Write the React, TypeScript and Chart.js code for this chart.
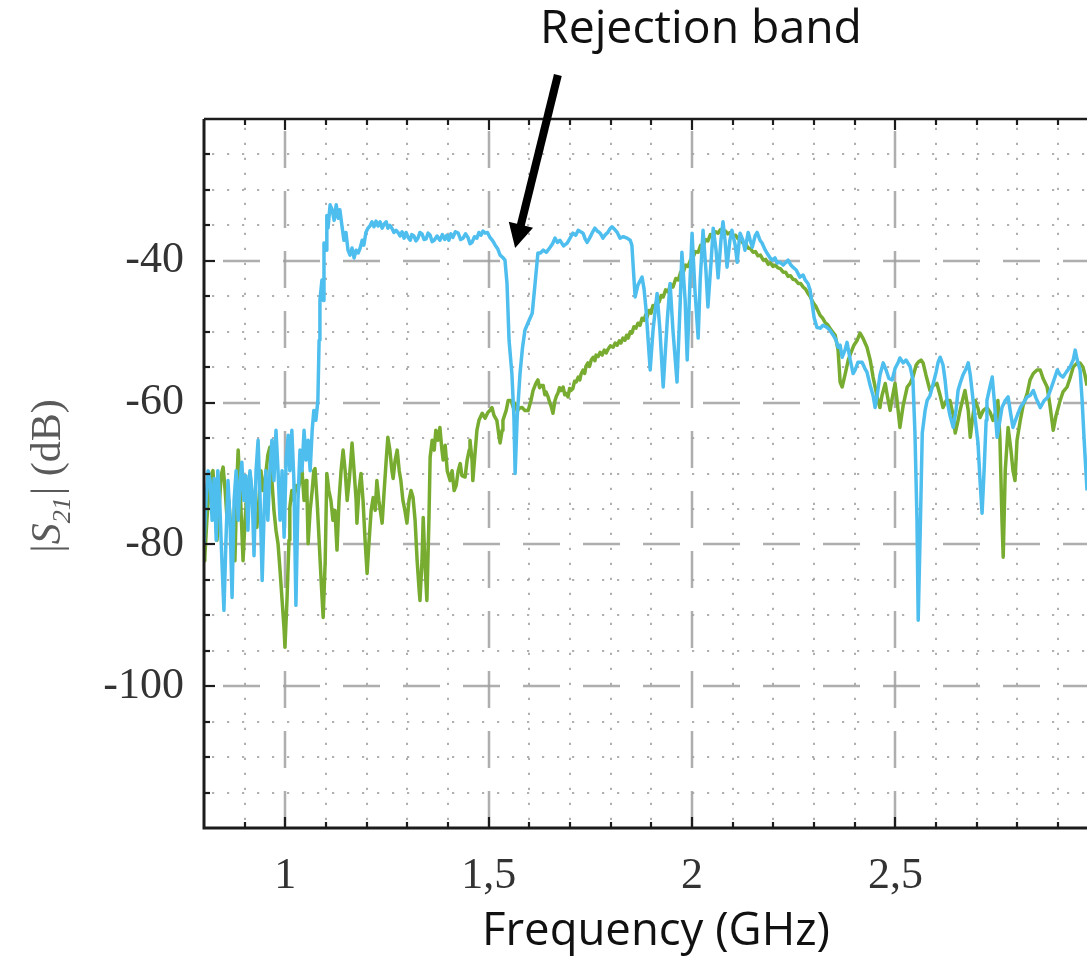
import React, { useEffect, useRef } from "react";
import { Chart, registerables } from "chart.js";

Chart.register(...registerables);

// ---------- axes ----------
const X_MIN = 0.8;
const X_MAX = 2.971;
const Y_MIN = -120;
const Y_MAX = -20;
const xMajorTicks = [1, 1.5, 2, 2.5];
const xTickLabels = ["1", "1,5", "2", "2,5"];
const yMajorTicks = [-100, -80, -60, -40];
const yTickLabels = ["-100", "-80", "-60", "-40"];
const X_MINOR_STEP = 0.1;
const Y_MINOR_STEP = 5;

// ---------- texts ----------
const titleText = "Rejection band";
const xAxisTitle = "Frequency (GHz)";
const yAxisParts = { left: "|", s: "S", sub: "21", right: "| (dB)" };

// annotation arrow (data coordinates: GHz, dB)
const arrowTail = [1.670, -13.8];
const arrowTip = [1.565, -38.2];

// ---------- series: [frequency GHz, |S21| dB] ----------
const blueS21: number[][] = [
  [0.800,-80.1],[0.805,-73.8],[0.810,-69.6],[0.815,-71.0],[0.820,-76.6],[0.825,-70.7],[0.830,-79.4],[0.834,-69.6],[0.839,-74.5],[0.844,-82.3],
  [0.849,-89.3],[0.854,-79.4],[0.859,-71.0],[0.864,-76.6],[0.869,-87.5],[0.874,-73.8],[0.879,-69.6],[0.884,-76.6],[0.889,-71.0],[0.893,-68.4],
  [0.898,-73.8],[0.903,-70.3],[0.908,-78.0],[0.913,-69.6],[0.918,-72.4],[0.923,-81.6],[0.928,-69.6],[0.933,-65.3],[0.938,-73.8],[0.943,-85.1],
  [0.948,-75.2],[0.952,-69.6],[0.957,-76.6],[0.962,-69.6],[0.967,-65.3],[0.972,-71.0],[0.977,-63.9],[0.982,-69.6],[0.987,-76.6],[0.992,-69.6],
  [0.997,-79.0],[1.002,-68.1],[1.007,-64.6],[1.011,-69.6],[1.016,-63.9],[1.021,-71.0],[1.026,-88.6],[1.031,-73.8],[1.036,-66.7],[1.041,-69.6],
  [1.046,-63.9],[1.051,-68.1],[1.056,-65.3],[1.061,-69.6],[1.066,-63.9],[1.070,-61.1],[1.075,-62.5],[1.080,-59.7],[1.083,-51.2],[1.085,-45.6],
  [1.090,-42.7],[1.093,-45.6],[1.095,-37.5],[1.100,-38.5],[1.102,-33.6],[1.105,-35.4],[1.110,-32.1],[1.115,-32.8],[1.120,-34.3],[1.125,-32.1],
  [1.130,-34.0],[1.134,-32.8],[1.139,-35.0],[1.144,-37.1],[1.149,-36.0],[1.154,-38.5],[1.159,-39.2],[1.164,-38.2],[1.169,-39.6],[1.174,-38.5],
  [1.179,-38.9],[1.184,-38.2],[1.189,-37.1],[1.193,-37.8],[1.198,-36.0],[1.203,-35.4],[1.208,-35.1],[1.213,-34.5],[1.218,-35.2],[1.223,-34.4],
  [1.228,-35.1],[1.233,-34.5],[1.238,-35.4],[1.243,-34.8],[1.248,-34.5],[1.252,-35.4],[1.257,-35.0],[1.262,-35.4],[1.267,-36.0],[1.272,-35.7],
  [1.277,-36.0],[1.282,-36.5],[1.287,-35.9],[1.292,-36.8],[1.297,-36.0],[1.302,-36.7],[1.307,-37.1],[1.311,-36.3],[1.316,-36.5],[1.321,-37.2],
  [1.326,-36.8],[1.331,-36.0],[1.336,-36.2],[1.341,-37.0],[1.346,-36.9],[1.351,-36.1],[1.356,-36.4],[1.361,-37.3],[1.366,-37.1],[1.373,-36.5],
  [1.380,-37.1],[1.386,-36.3],[1.392,-37.0],[1.397,-36.4],[1.402,-37.1],[1.407,-36.2],[1.412,-36.7],[1.418,-35.9],[1.425,-36.1],[1.431,-37.0],
  [1.437,-36.8],[1.443,-36.2],[1.449,-36.7],[1.454,-37.6],[1.459,-37.4],[1.465,-36.6],[1.471,-36.8],[1.476,-36.0],[1.481,-36.4],[1.486,-35.8],
  [1.491,-36.1],[1.497,-36.0],[1.503,-36.7],[1.510,-37.2],[1.516,-37.8],[1.522,-38.3],[1.528,-39.2],[1.534,-39.5],[1.540,-39.9],[1.545,-43.2],
  [1.550,-51.2],[1.557,-55.9],[1.562,-62.1],[1.565,-70.0],[1.570,-62.1],[1.577,-55.9],[1.583,-52.3],[1.589,-49.8],[1.597,-48.7],[1.607,-47.4],
  [1.614,-43.2],[1.621,-38.9],[1.627,-38.9],[1.634,-38.5],[1.642,-38.8],[1.651,-38.1],[1.657,-37.6],[1.663,-36.8],[1.669,-37.4],[1.675,-37.1],
  [1.684,-37.9],[1.693,-37.5],[1.700,-36.8],[1.707,-36.1],[1.714,-36.4],[1.720,-35.7],[1.726,-35.9],[1.732,-36.1],[1.737,-36.9],[1.742,-37.4],
  [1.748,-36.8],[1.754,-36.1],[1.761,-35.4],[1.767,-35.8],[1.774,-36.1],[1.781,-36.8],[1.787,-36.3],[1.793,-36.0],[1.798,-35.5],[1.803,-35.2],
  [1.810,-35.6],[1.816,-36.0],[1.823,-36.8],[1.831,-36.6],[1.840,-36.8],[1.848,-37.1],[1.852,-37.8],[1.856,-41.5],[1.860,-45.1],[1.867,-43.4],
  [1.877,-42.3],[1.882,-44.0],[1.887,-47.0],[1.897,-55.4],[1.904,-49.8],[1.914,-44.6],[1.921,-49.8],[1.929,-57.8],[1.939,-48.4],[1.946,-43.2],
  [1.953,-49.8],[1.963,-57.1],[1.971,-45.6],[1.975,-38.8],[1.983,-45.6],[1.988,-54.0],[1.995,-42.7],[2.000,-36.1],[2.007,-44.1],[2.015,-50.9],
  [2.020,-42.7],[2.027,-35.7],[2.034,-41.3],[2.039,-46.5],[2.047,-39.9],[2.052,-35.4],[2.059,-38.5],[2.064,-42.4],[2.071,-37.1],[2.076,-34.5],
  [2.081,-37.1],[2.086,-40.9],[2.093,-37.1],[2.098,-35.7],[2.106,-37.8],[2.111,-40.2],[2.116,-37.1],[2.118,-36.1],[2.125,-37.1],[2.130,-38.5],
  [2.138,-36.0],[2.143,-37.1],[2.148,-38.1],[2.155,-36.5],[2.160,-36.0],[2.167,-37.1],[2.172,-37.5],[2.180,-38.5],[2.184,-38.9],[2.192,-39.6],
  [2.197,-39.9],[2.204,-39.6],[2.209,-40.3],[2.216,-40.2],[2.224,-40.6],[2.231,-40.2],[2.236,-39.9],[2.243,-40.6],[2.248,-40.9],[2.256,-41.3],
  [2.265,-42.3],[2.273,-42.0],[2.278,-42.7],[2.285,-43.2],[2.290,-44.1],[2.295,-46.0],[2.300,-48.0],[2.307,-49.4],[2.315,-49.5],[2.322,-49.1],
  [2.332,-49.4],[2.339,-49.8],[2.347,-50.5],[2.354,-51.2],[2.359,-52.2],[2.364,-51.9],[2.369,-53.6],[2.376,-52.6],[2.381,-51.5],[2.389,-54.0],
  [2.396,-55.9],[2.401,-55.4],[2.408,-54.3],[2.418,-54.3],[2.425,-55.2],[2.430,-55.7],[2.438,-57.6],[2.445,-59.0],[2.450,-60.7],[2.455,-59.0],
  [2.462,-56.1],[2.470,-54.4],[2.477,-55.4],[2.484,-56.6],[2.492,-56.8],[2.499,-55.2],[2.507,-54.3],[2.511,-53.7],[2.519,-54.4],[2.526,-54.0],
  [2.536,-54.9],[2.543,-56.8],[2.548,-64.3],[2.553,-76.6],[2.556,-90.7],[2.561,-78.0],[2.566,-64.3],[2.573,-61.1],[2.578,-59.7],[2.585,-59.0],
  [2.593,-57.3],[2.600,-55.7],[2.605,-54.3],[2.610,-53.6],[2.617,-54.7],[2.622,-56.8],[2.627,-59.7],[2.634,-61.8],[2.642,-63.5],[2.649,-61.1],
  [2.654,-58.3],[2.659,-57.3],[2.666,-56.1],[2.674,-55.2],[2.679,-54.4],[2.684,-56.1],[2.691,-59.7],[2.698,-63.2],[2.703,-65.7],[2.708,-71.0],
  [2.713,-75.6],[2.718,-69.6],[2.723,-62.5],[2.725,-59.7],[2.733,-57.6],[2.738,-56.4],[2.743,-59.7],[2.750,-64.9],[2.757,-62.5],[2.762,-60.7],
  [2.770,-59.7],[2.777,-59.2],[2.784,-61.8],[2.789,-63.5],[2.797,-62.2],[2.807,-60.7],[2.814,-60.1],[2.824,-59.2],[2.831,-59.0],[2.839,-58.3],
  [2.846,-59.4],[2.856,-60.7],[2.866,-59.7],[2.875,-59.2],[2.885,-57.6],[2.898,-55.4],[2.905,-56.1],[2.912,-56.4],[2.920,-55.7],[2.929,-55.0],
  [2.937,-54.0],[2.942,-52.6],[2.947,-54.0],[2.954,-55.4],[2.959,-59.7],[2.964,-65.3],[2.971,-72.4]
];

const greenS21: number[][] = [
  [0.800,-82.3],[0.802,-81.8],[0.807,-76.6],[0.812,-72.4],[0.817,-70.3],[0.822,-69.6],[0.827,-73.8],[0.832,-79.4],[0.837,-75.2],[0.842,-70.3],
  [0.847,-69.1],[0.852,-72.4],[0.857,-76.6],[0.861,-73.8],[0.866,-78.0],[0.871,-80.1],[0.876,-82.3],[0.881,-71.0],[0.884,-66.7],[0.889,-72.4],
  [0.893,-78.0],[0.896,-82.3],[0.901,-76.6],[0.906,-72.4],[0.913,-70.0],[0.918,-73.1],[0.923,-75.2],[0.930,-77.6],[0.935,-73.8],[0.940,-69.6],
  [0.945,-72.4],[0.950,-71.0],[0.957,-67.4],[0.962,-66.3],[0.967,-71.0],[0.972,-75.2],[0.977,-78.0],[0.982,-79.9],[0.987,-83.7],[0.992,-87.9],
  [0.997,-92.1],[0.999,-94.5],[1.004,-87.9],[1.009,-79.4],[1.011,-74.8],[1.016,-72.4],[1.021,-73.8],[1.026,-71.7],[1.031,-72.4],[1.036,-71.0],
  [1.041,-69.6],[1.046,-73.8],[1.051,-71.0],[1.053,-72.4],[1.056,-79.9],[1.061,-75.2],[1.066,-72.4],[1.070,-69.6],[1.073,-69.3],[1.078,-73.8],
  [1.083,-79.4],[1.088,-85.1],[1.093,-90.3],[1.098,-82.3],[1.102,-70.0],[1.107,-72.4],[1.112,-73.8],[1.117,-76.6],[1.122,-75.2],[1.127,-80.8],
  [1.132,-73.8],[1.137,-69.6],[1.142,-66.7],[1.147,-69.6],[1.152,-73.8],[1.157,-71.0],[1.161,-68.1],[1.164,-65.7],[1.169,-69.6],[1.174,-73.8],
  [1.176,-77.0],[1.181,-72.4],[1.186,-70.0],[1.191,-73.8],[1.196,-79.4],[1.201,-84.1],[1.206,-79.4],[1.211,-75.2],[1.216,-73.4],[1.221,-75.2],
  [1.225,-71.0],[1.230,-73.8],[1.238,-77.0],[1.243,-72.4],[1.248,-68.1],[1.252,-64.9],[1.257,-66.7],[1.262,-69.6],[1.265,-70.7],[1.270,-68.1],
  [1.275,-66.7],[1.280,-69.6],[1.284,-71.0],[1.289,-73.8],[1.294,-75.2],[1.299,-77.0],[1.304,-73.8],[1.309,-72.4],[1.314,-73.4],[1.319,-76.6],
  [1.324,-82.3],[1.329,-86.5],[1.331,-87.9],[1.336,-82.3],[1.339,-76.2],[1.343,-82.3],[1.348,-87.9],[1.353,-76.6],[1.356,-67.7],[1.361,-65.3],
  [1.366,-66.7],[1.370,-63.9],[1.375,-65.3],[1.380,-63.5],[1.385,-66.7],[1.388,-68.1],[1.393,-66.0],[1.398,-69.6],[1.405,-71.0],[1.410,-69.6],
  [1.415,-72.4],[1.420,-71.7],[1.425,-69.6],[1.430,-68.6],[1.434,-70.3],[1.442,-70.5],[1.447,-68.1],[1.452,-66.7],[1.454,-65.3],[1.459,-68.1],
  [1.461,-71.0],[1.466,-67.4],[1.471,-63.9],[1.476,-62.5],[1.484,-61.5],[1.491,-62.2],[1.498,-61.4],[1.503,-61.1],[1.508,-60.7],[1.513,-61.8],
  [1.520,-62.5],[1.525,-64.6],[1.528,-65.7],[1.533,-63.9],[1.535,-62.5],[1.543,-61.1],[1.548,-59.7],[1.555,-59.7],[1.560,-60.6],[1.565,-60.1],
  [1.570,-61.2],[1.575,-60.8],[1.582,-60.7],[1.589,-61.1],[1.597,-61.1],[1.604,-59.7],[1.609,-58.3],[1.616,-57.3],[1.621,-56.8],[1.625,-57.9],
  [1.629,-57.6],[1.634,-57.6],[1.638,-58.9],[1.641,-58.5],[1.646,-59.2],[1.650,-60.0],[1.653,-60.4],[1.658,-61.5],[1.663,-59.7],[1.667,-59.0],
  [1.670,-58.7],[1.674,-57.9],[1.678,-58.3],[1.683,-57.8],[1.687,-58.9],[1.690,-58.7],[1.695,-59.2],[1.699,-58.0],[1.702,-58.3],[1.707,-58.0],
  [1.711,-57.0],[1.715,-57.1],[1.720,-56.4],[1.724,-56.8],[1.727,-56.0],[1.732,-55.4],[1.736,-55.9],[1.739,-54.9],[1.744,-54.4],[1.748,-54.9],
  [1.752,-54.0],[1.757,-53.6],[1.761,-54.1],[1.764,-53.3],[1.769,-53.5],[1.774,-52.9],[1.779,-53.3],[1.784,-52.6],[1.789,-53.0],[1.793,-52.5],
  [1.799,-52.0],[1.806,-52.2],[1.811,-51.6],[1.816,-51.9],[1.821,-51.3],[1.825,-51.6],[1.830,-50.9],[1.835,-51.2],[1.839,-50.5],[1.843,-50.9],
  [1.848,-50.0],[1.852,-50.2],[1.857,-49.3],[1.862,-49.5],[1.867,-48.8],[1.872,-49.1],[1.877,-48.1],[1.882,-48.4],[1.886,-47.6],[1.889,-48.0],
  [1.894,-47.0],[1.899,-47.4],[1.904,-46.3],[1.909,-46.5],[1.914,-45.5],[1.919,-45.8],[1.924,-44.9],[1.929,-45.1],[1.935,-44.1],[1.941,-44.4],
  [1.947,-43.3],[1.953,-43.7],[1.960,-42.5],[1.966,-42.7],[1.972,-41.6],[1.978,-41.7],[1.984,-40.6],[1.990,-40.8],[1.996,-39.9],[2.002,-39.6],
  [2.008,-38.7],[2.015,-38.8],[2.021,-37.8],[2.027,-37.9],[2.033,-37.0],[2.039,-37.2],[2.045,-36.3],[2.052,-36.5],[2.058,-35.9],[2.064,-36.1],
  [2.070,-35.6],[2.076,-36.1],[2.082,-35.8],[2.088,-36.2],[2.094,-36.0],[2.101,-36.5],[2.107,-36.4],[2.113,-36.9],[2.119,-37.0],[2.125,-37.5],
  [2.131,-37.6],[2.138,-38.2],[2.144,-38.3],[2.150,-38.8],[2.156,-38.7],[2.162,-39.3],[2.168,-39.2],[2.175,-39.9],[2.181,-39.8],[2.187,-40.5],
  [2.193,-40.3],[2.199,-40.8],[2.205,-40.6],[2.211,-41.0],[2.217,-41.1],[2.224,-41.6],[2.230,-41.6],[2.236,-42.2],[2.242,-42.1],[2.248,-42.6],
  [2.254,-42.7],[2.261,-43.2],[2.267,-43.2],[2.273,-43.7],[2.279,-44.0],[2.285,-44.6],[2.290,-45.0],[2.295,-45.6],[2.300,-46.1],[2.305,-46.5],
  [2.310,-47.1],[2.315,-47.7],[2.321,-48.1],[2.327,-48.7],[2.333,-49.0],[2.339,-49.5],[2.345,-50.0],[2.352,-50.5],[2.359,-52.6],[2.364,-57.1],
  [2.369,-57.8],[2.376,-56.1],[2.384,-54.0],[2.391,-52.9],[2.398,-51.9],[2.406,-51.2],[2.413,-50.2],[2.420,-50.9],[2.430,-52.2],[2.438,-54.0],
  [2.445,-56.4],[2.452,-58.3],[2.457,-59.7],[2.462,-60.7],[2.467,-59.0],[2.475,-57.3],[2.480,-59.0],[2.487,-61.1],[2.492,-59.4],[2.499,-57.3],
  [2.504,-59.7],[2.511,-63.5],[2.519,-60.4],[2.529,-57.8],[2.536,-57.3],[2.543,-56.4],[2.551,-54.7],[2.556,-54.3],[2.563,-54.0],[2.568,-54.4],
  [2.575,-56.1],[2.585,-58.3],[2.593,-57.6],[2.602,-57.3],[2.610,-59.0],[2.617,-60.7],[2.625,-59.7],[2.634,-59.7],[2.642,-61.8],[2.647,-64.3],
  [2.654,-62.5],[2.659,-61.1],[2.666,-59.4],[2.671,-58.3],[2.679,-61.1],[2.684,-64.9],[2.689,-62.5],[2.696,-59.7],[2.703,-60.8],[2.708,-62.1],
  [2.716,-61.1],[2.725,-60.7],[2.733,-61.4],[2.740,-62.5],[2.748,-61.1],[2.752,-59.7],[2.757,-65.3],[2.762,-76.6],[2.765,-81.8],[2.770,-69.6],
  [2.777,-63.5],[2.784,-66.7],[2.789,-69.6],[2.794,-71.0],[2.799,-65.3],[2.807,-62.5],[2.814,-60.4],[2.824,-58.7],[2.831,-56.8],[2.839,-55.9],
  [2.848,-55.4],[2.856,-55.4],[2.863,-56.6],[2.873,-57.8],[2.880,-60.4],[2.888,-63.9],[2.895,-61.8],[2.905,-59.7],[2.912,-58.5],[2.922,-57.8],
  [2.929,-56.6],[2.937,-55.0],[2.947,-54.4],[2.954,-54.4],[2.961,-55.0],[2.966,-56.1],[2.971,-57.6]
];

// ---------- style ----------
const BLUE = "rgb(77,190,238)";
const GREEN = "rgb(119,172,48)";
const LINE_WIDTH = 3.5;
const AXIS_COLOR = "#1c1c1c";
const TICK_LABEL_COLOR = "#333333";
const YLABEL_COLOR = "#5a5a5a";
const GRID_MAJOR = "rgba(160,160,160,0.85)";
const GRID_MINOR = "rgba(150,150,150,0.75)";
const SERIF = '"Liberation Serif", "Times New Roman", serif';
const SANS = '"Open Sans", "Noto Sans", sans-serif';

const near = (a: number, b: number) => Math.abs(a - b) < 1e-6;

function drawFitted(ctx: CanvasRenderingContext2D, text: string, family: string, targetW: number, cx: number, baseY: number) {
  ctx.font = `100px ${family}`;
  const w = ctx.measureText(text).width;
  const size = (100 * targetW) / w;
  ctx.font = `${size}px ${family}`;
  ctx.textAlign = "center";
  ctx.textBaseline = "alphabetic";
  ctx.fillText(text, cx, baseY);
}

const overlayPlugin = {
  id: "matlabOverlay",
  beforeDatasetsDraw(chart: any) {
    const { ctx, chartArea: a } = chart;
    const xs = chart.scales.x;
    const ys = chart.scales.y;
    ctx.save();
    ctx.beginPath();
    ctx.rect(a.left, a.top, a.right - a.left, a.bottom - a.top);
    ctx.clip();
    ctx.lineCap = "butt";

    // minor dotted grid
    ctx.strokeStyle = GRID_MINOR;
    ctx.lineWidth = 2;
    ctx.setLineDash([2.2, 12.8]);
    for (let k = Math.round(X_MIN / X_MINOR_STEP) + 1; k * X_MINOR_STEP < X_MAX; k++) {
      const v = +(k * X_MINOR_STEP).toFixed(4);
      if (xMajorTicks.some((m) => near(m, v))) continue;
      const px = Math.round(xs.getPixelForValue(v));
      ctx.beginPath();
      ctx.moveTo(px, a.bottom - 8);
      ctx.lineTo(px, a.top);
      ctx.stroke();
    }
    for (let k = Math.round(Y_MIN / Y_MINOR_STEP) + 1; k * Y_MINOR_STEP < Y_MAX; k++) {
      const v = k * Y_MINOR_STEP;
      if (yMajorTicks.some((m) => near(m, v))) continue;
      const py = Math.round(ys.getPixelForValue(v));
      ctx.beginPath();
      ctx.moveTo(a.left + 8, py);
      ctx.lineTo(a.right, py);
      ctx.stroke();
    }

    // major dashed grid
    ctx.strokeStyle = GRID_MAJOR;
    ctx.lineWidth = 2.5;
    ctx.setLineDash([37, 23]);
    ctx.lineDashOffset = 0;
    for (const v of xMajorTicks) {
      const px = Math.round(xs.getPixelForValue(v));
      ctx.beginPath();
      ctx.moveTo(px, a.bottom);
      ctx.lineTo(px, a.top);
      ctx.stroke();
    }
    ctx.lineDashOffset = 41;
    for (const v of yMajorTicks) {
      const py = Math.round(ys.getPixelForValue(v));
      ctx.beginPath();
      ctx.moveTo(a.left, py);
      ctx.lineTo(a.right, py);
      ctx.stroke();
    }
    ctx.restore();
  },
  afterDatasetsDraw(chart: any) {
    const { ctx, chartArea: a } = chart;
    const xs = chart.scales.x;
    const ys = chart.scales.y;
    ctx.save();
    ctx.setLineDash([]);
    ctx.strokeStyle = AXIS_COLOR;
    ctx.lineCap = "butt";

    // ticks (inward)
    ctx.lineWidth = 2.2;
    for (let k = Math.round(X_MIN / X_MINOR_STEP) + 1; k * X_MINOR_STEP < X_MAX; k++) {
      const v = +(k * X_MINOR_STEP).toFixed(4);
      const major = xMajorTicks.some((m) => near(m, v));
      const len = major ? 11 : 6;
      const px = Math.round(xs.getPixelForValue(v));
      ctx.beginPath();
      ctx.moveTo(px, a.bottom);
      ctx.lineTo(px, a.bottom - len);
      ctx.moveTo(px, a.top);
      ctx.lineTo(px, a.top + len);
      ctx.stroke();
    }
    for (let k = Math.round(Y_MIN / Y_MINOR_STEP) + 1; k * Y_MINOR_STEP < Y_MAX; k++) {
      const v = k * Y_MINOR_STEP;
      const major = yMajorTicks.some((m) => near(m, v));
      const len = major ? 11 : 6;
      const py = Math.round(ys.getPixelForValue(v));
      ctx.beginPath();
      ctx.moveTo(a.left, py);
      ctx.lineTo(a.left + len, py);
      ctx.stroke();
    }

    // frame
    ctx.lineWidth = 3;
    ctx.beginPath();
    ctx.moveTo(a.left, a.top);
    ctx.lineTo(a.left, a.bottom);
    ctx.lineTo(a.right, a.bottom);
    ctx.stroke();
    ctx.lineWidth = 2.5;
    ctx.beginPath();
    ctx.moveTo(a.left, a.top);
    ctx.lineTo(a.right, a.top);
    ctx.stroke();

    // annotation arrow
    const tx = xs.getPixelForValue(arrowTip[0]);
    const ty = ys.getPixelForValue(arrowTip[1]);
    const sx = xs.getPixelForValue(arrowTail[0]);
    const sy = ys.getPixelForValue(arrowTail[1]);
    const ang = Math.atan2(ty - sy, tx - sx);
    const headLen = 24;
    const headHalf = 12.5;
    const bx = tx - headLen * Math.cos(ang);
    const by = ty - headLen * Math.sin(ang);
    ctx.strokeStyle = "#000";
    ctx.fillStyle = "#000";
    ctx.lineWidth = 8;
    ctx.beginPath();
    ctx.moveTo(sx, sy);
    ctx.lineTo(bx + 2 * Math.cos(ang), by + 2 * Math.sin(ang));
    ctx.stroke();
    ctx.beginPath();
    ctx.moveTo(tx, ty);
    ctx.lineTo(bx + headHalf * Math.sin(ang), by - headHalf * Math.cos(ang));
    ctx.lineTo(bx - headHalf * Math.sin(ang), by + headHalf * Math.cos(ang));
    ctx.closePath();
    ctx.fill();

    // title and x axis title
    ctx.fillStyle = "#111";
    drawFitted(ctx, titleText, SANS, 322, 701, 43);
    drawFitted(ctx, xAxisTitle, SANS, 348, 656, 945);

    // y axis title |S21| (dB), rotated
    ctx.save();
    ctx.translate(60, 476);
    ctx.rotate(-Math.PI / 2);
    ctx.fillStyle = YLABEL_COLOR;
    ctx.textBaseline = "alphabetic";
    ctx.textAlign = "left";
    const fMain = `42px ${SERIF}`;
    const fIt = `italic 42px ${SERIF}`;
    const fSub = `italic 26px ${SERIF}`;
    ctx.font = fMain;
    const w1 = ctx.measureText(yAxisParts.left).width;
    const w4 = ctx.measureText(yAxisParts.right).width;
    ctx.font = fIt;
    const w2 = ctx.measureText(yAxisParts.s).width;
    ctx.font = fSub;
    const w3 = ctx.measureText(yAxisParts.sub).width + 2;
    let cx = -(w1 + w2 + w3 + w4) / 2;
    ctx.font = fMain;
    ctx.fillText(yAxisParts.left, cx, 0);
    cx += w1;
    ctx.font = fIt;
    ctx.fillText(yAxisParts.s, cx, 0);
    cx += w2;
    ctx.font = fSub;
    ctx.fillText(yAxisParts.sub, cx, 10);
    cx += w3;
    ctx.font = fMain;
    ctx.fillText(yAxisParts.right, cx, 0);
    ctx.restore();

    ctx.restore();
  },
};

export default function App() {
  const ref = useRef<HTMLCanvasElement>(null);
  useEffect(() => {
    document.body.style.margin = "0";
    document.body.style.overflow = "hidden";
    const canvas = ref.current;
    if (!canvas) return;
    const chart = new Chart(canvas, {
      type: "line",
      data: {
        datasets: [
          {
            label: "blue",
            data: blueS21.map((p) => ({ x: p[0], y: p[1] })),
            borderColor: BLUE,
            backgroundColor: BLUE,
            borderWidth: LINE_WIDTH,
            borderJoinStyle: "round",
            pointRadius: 0,
            tension: 0,
            fill: false,
          },
          {
            label: "green",
            data: greenS21.map((p) => ({ x: p[0], y: p[1] })),
            borderColor: GREEN,
            backgroundColor: GREEN,
            borderWidth: LINE_WIDTH,
            borderJoinStyle: "round",
            pointRadius: 0,
            tension: 0,
            fill: false,
          },
        ],
      },
      options: {
        responsive: false,
        animation: false,
        devicePixelRatio: 1,
        parsing: false,
        layout: { padding: { top: 119, left: 0, right: 0, bottom: 0 } },
        plugins: { legend: { display: false }, tooltip: { enabled: false }, title: { display: false } },
        scales: {
          x: {
            type: "linear",
            min: X_MIN,
            max: X_MAX,
            afterFit: (s: any) => {
              s.height = 133;
            },
            afterBuildTicks: (s: any) => {
              s.ticks = xMajorTicks.map((v) => ({ value: v }));
            },
            ticks: {
              autoSkip: false,
              maxRotation: 0,
              minRotation: 0,
              padding: 22,
              color: TICK_LABEL_COLOR,
              font: { family: SERIF, size: 44 },
              callback: (v: any) => {
                const i = xMajorTicks.findIndex((m) => near(m, Number(v)));
                return i >= 0 ? xTickLabels[i] : "";
              },
            },
            grid: { display: false, drawTicks: false },
            border: { display: false },
          },
          y: {
            type: "linear",
            min: Y_MIN,
            max: Y_MAX,
            afterFit: (s: any) => {
              s.width = 204;
            },
            afterBuildTicks: (s: any) => {
              s.ticks = yMajorTicks.map((v) => ({ value: v }));
            },
            ticks: {
              autoSkip: false,
              padding: 20,
              color: TICK_LABEL_COLOR,
              font: { family: SERIF, size: 44 },
              callback: (v: any) => {
                const i = yMajorTicks.findIndex((m) => near(m, Number(v)));
                return i >= 0 ? yTickLabels[i] : "";
              },
            },
            grid: { display: false, drawTicks: false },
            border: { display: false },
          },
        },
      } as any,
      plugins: [overlayPlugin],
    });
    return () => chart.destroy();
  }, []);
  return <canvas ref={ref} width={1087} height={961} style={{ display: "block", width: 1087, height: 961 }} />;
}
